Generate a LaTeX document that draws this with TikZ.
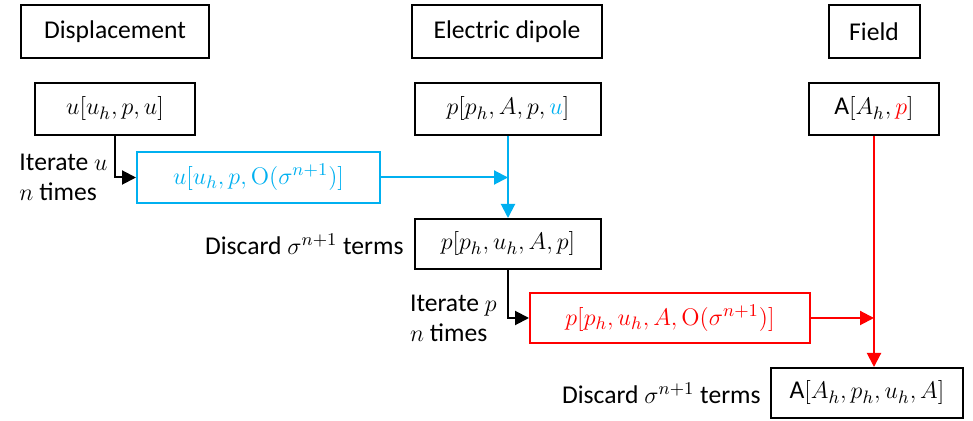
\documentclass[tikz,border=0pt]{standalone}
\usepackage{amsmath,amssymb}
\usepackage[no-math]{fontspec}
\setmainfont{Carlito}
\usepackage{xcolor}
\definecolor{iterblue}{RGB}{0,176,240}
\definecolor{iterred}{RGB}{255,0,0}
\usepackage{tikz}
\usetikzlibrary{arrows.meta,positioning,calc}

\begin{document}
\begin{tikzpicture}[x=0.5pt,y=-0.5pt,
  every node/.style={font=\fontsize{12.8}{15}\selectfont, inner sep=0pt, align=center},
  box/.style={draw,line width=1pt,minimum height=26pt},
  lbl/.style={align=left},
  conn/.style={line width=1pt,-{Triangle[length=7pt,width=7pt]}}]
\useasboundingbox (0,0) rectangle (973,421);
% column heads
\node[box,minimum width=94pt,minimum height=26.5pt] (hdisp)  at (115,32) {Displacement};
\node[box,minimum width=95pt,minimum height=26.5pt] (hdip)   at (507,32) {Electric dipole};
\node[box,minimum width=45.5pt,minimum height=26.5pt] (hfield) at (874,32) {Field};
% starting forms
\node[box,minimum width=80pt] (u1) at (115,109) {$u[u_h,p,u]$};
\node[box,minimum width=93pt] (p1) at (508,109) {$p[p_h,A,p,\textcolor{iterblue}{u}]$};
\node[box,minimum width=65pt] (A1) at (874,109) {A$[A_h,\textcolor{iterred}{p}]$};
% iterations
\node[box,draw=iterblue,text=iterblue,minimum width=121.5pt,minimum height=25.5pt]
  (ublue) at (258.5,177.5) {$u[u_h,p,\mathrm{O}(\sigma^{n+1})]$};
\node[box,minimum width=93pt,minimum height=25pt] (p2) at (508,244) {$p[p_h,u_h,A,p]$};
\node[box,draw=iterred,text=iterred,minimum width=140pt,minimum height=25pt]
  (pred) at (670,318) {$p[p_h,u_h,A,\mathrm{O}(\sigma^{n+1})]$};
\node[box,minimum width=96pt,minimum height=25pt] (A2) at (867,393) {A$[A_h,p_h,u_h,A]$};
% side labels
\node[lbl,left=14pt of ublue] (iteru) {Iterate $u$\\$n$ times};
\node[left=5pt of p2] (disc1) {Discard $\sigma^{n+1}$ terms};
\node[lbl,left=16pt of pred] (iterp) {Iterate $p$\\$n$ times};
\node[left=4.5pt of A2] (disc2) {Discard $\sigma^{n+1}$ terms};
% connectors
\draw[conn] (u1.south) |- (ublue.west);
\draw[conn,iterblue] (ublue.east) -- (ublue.east -| p1.south);
\draw[conn,iterblue] (p1.south) -- (p2.north);
\draw[conn] (p2.south) |- (pred.west);
\draw[conn,iterred] (pred.east) -- (pred.east -| A1.south);
\draw[conn,iterred] (A1.south) -- (A1.south |- A2.north);
\end{tikzpicture}
\end{document}
